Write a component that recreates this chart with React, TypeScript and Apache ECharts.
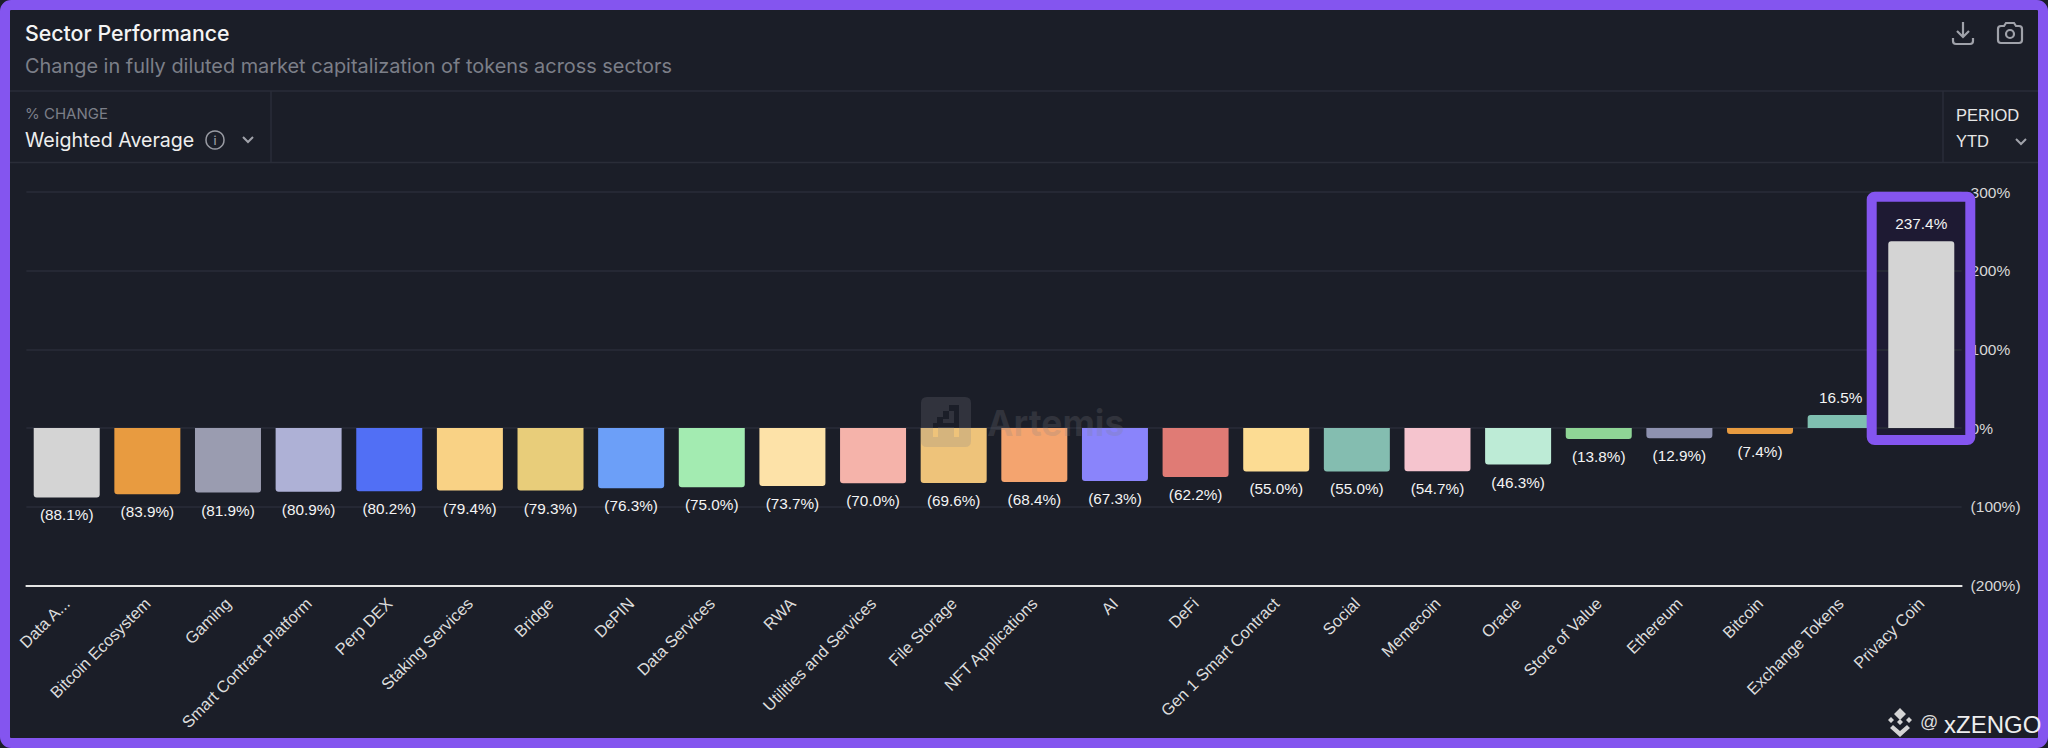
import React, { useEffect, useRef } from "react";
import * as echarts from "echarts";

const categories = ["Data A...", "Bitcoin Ecosystem", "Gaming", "Smart Contract Platform", "Perp DEX", "Staking Services", "Bridge", "DePIN", "Data Services", "RWA", "Utilities and Services", "File Storage", "NFT Applications", "AI", "DeFi", "Gen 1 Smart Contract", "Social", "Memecoin", "Oracle", "Store of Value", "Ethereum", "Bitcoin", "Exchange Tokens", "Privacy Coin"];
const values = [-88.1, -83.9, -81.9, -80.9, -80.2, -79.4, -79.3, -76.3, -75.0, -73.7, -70.0, -69.6, -68.4, -67.3, -62.2, -55.0, -55.0, -54.7, -46.3, -13.8, -12.9, -7.4, 16.5, 237.4];
const barColors = ["#d4d4d4", "#e89b40", "#9a9cb0", "#aeb1d6", "#516ff5", "#f9d285", "#e8cd7a", "#6c9ff8", "#a3ebb1", "#fde2a8", "#f5b3aa", "#eec37a", "#f4a46f", "#8a84fb", "#e07b75", "#fcdc93", "#84bdb0", "#f5c4ce", "#bdebd6", "#8fd596", "#8e92b0", "#e89b40", "#7fbfb0", "#d4d4d4"];

const BG = "#1b1e28";
const PURPLE = "#8455ef";
const LINE = "#2a2d38";
const UI = "Inter, sans-serif";
const CHART = '"Liberation Sans", Arial, sans-serif';

const pct = (v: number, d: number) => (v < 0 ? `(${Math.abs(v).toFixed(d)}%)` : `${v.toFixed(d)}%`);

const DOWNLOAD = "M12 2 V17 M6 11 L12 17 L18 11 M2 18 V21 Q2 24 5 24 H19 Q22 24 22 21 V18";
const CAMERA = "M5 6 H8 L10 3 H18 L20 6 H23 Q26 6 26 9 V20 Q26 23 23 23 H5 Q2 23 2 20 V9 Q2 6 5 6 Z M14 10 A4 4 0 1 0 14 18 A4 4 0 1 0 14 10 Z";
const CHEVRON = "M0 0 L5 5 L10 0";
const ARTEMIS = "M0 6 Q0 0 6 0 H44 Q50 0 50 6 V44 Q50 50 44 50 H6 Q0 50 0 44 Z M12 40 H17 V30 H33 V40 H38 V8 H28 V14 H22 V20 H16 V26 H12 Z M22 26 V22 H28 V14 H33 V26 Z";
const BINANCE = "M14 0 L20 6 L14 12 L8 6 Z M5 9 L8 12 L5 15 L2 12 Z M23 9 L26 12 L23 15 L20 12 Z M14 11 L17 14 L14 17 L11 14 Z M7 17 L14 23 L21 17 L24 20 L14 29 L4 20 Z";

echarts.graphic.registerShape("dlIcon", echarts.graphic.extendPath(DOWNLOAD, {}));
echarts.graphic.registerShape("camIcon", echarts.graphic.extendPath(CAMERA, {}));
echarts.graphic.registerShape("chevIcon", echarts.graphic.extendPath(CHEVRON, {}));
echarts.graphic.registerShape("artemisIcon", echarts.graphic.extendPath(ARTEMIS, {}));
echarts.graphic.registerShape("binanceIcon", echarts.graphic.extendPath(BINANCE, {}));

const hline = (y: number, x1: number, x2: number) => ({
  type: "line", z: 5, shape: { x1, y1: y, x2, y2: y }, style: { stroke: LINE, lineWidth: 1.5 },
});
const vline = (x: number, y1: number, y2: number) => ({
  type: "line", z: 5, shape: { x1: x, y1, x2: x, y2 }, style: { stroke: LINE, lineWidth: 1.5 },
});
const label = (text: string, x: number, y: number, size: number, fill: string, font = UI, weight: any = 400, z = 20) => ({
  type: "text", z, x, y,
  style: { text, fill, fontFamily: font, fontSize: size, fontWeight: weight, verticalAlign: "middle" },
});
const chev = (x: number, y: number) => ({
  type: "chevIcon", z: 20, x, y, style: { stroke: "#a0a2aa", lineWidth: 2, fill: "none" },
});

export default function App() {
  const ref = useRef<HTMLDivElement>(null);
  useEffect(() => {
    document.body.style.margin = "0";
    document.body.style.background = PURPLE;
    const chart = echarts.init(ref.current!, undefined, { renderer: "svg" });
    chart.setOption({
      animation: false,
      backgroundColor: BG,
      grid: { left: 26.4, width: 1935.2, top: 192, height: 393.5, containLabel: false },
      xAxis: {
        type: "category",
        data: categories,
        axisLine: { onZero: false, lineStyle: { color: "#e4e4e4", width: 2 } },
        axisTick: { show: false },
        axisLabel: { rotate: 45, interval: 0, margin: 15, color: "#dcdcdc", fontSize: 16.4, fontFamily: CHART },
      },
      yAxis: {
        type: "value",
        position: "right",
        min: -200,
        max: 300,
        interval: 100,
        axisLine: { show: false },
        axisTick: { show: false },
        splitLine: { lineStyle: { color: LINE, width: 1.5 } },
        axisLabel: { margin: 9, color: "#d8d8d8", fontSize: 15.5, fontFamily: CHART, formatter: (v: number) => pct(v, 0) },
      },
      series: [{
        type: "bar",
        barWidth: 66,
        data: values.map((v, i) => ({
          value: v,
          itemStyle: { color: barColors[i], borderRadius: v < 0 ? [0, 0, 3, 3] : [3, 3, 0, 0] },
          label: { position: v < 0 ? "bottom" : "top" },
        })),
        label: {
          show: true,
          distance: 10,
          color: "#f4f4f4",
          fontSize: 15.3,
          fontFamily: CHART,
          formatter: (p: any) => pct(p.value, 1),
        },
      }],
      graphic: { elements: [
        // tint behind the highlighted bar
        { type: "rect", z: 0, shape: { x: 1871.7, y: 196.7, width: 98.6, height: 243.3 }, style: { fill: "#1e1a33" } },

        // watermark
        { type: "artemisIcon", z: 30, x: 921, y: 397, style: { fill: "rgba(128,128,135,0.22)" } },
        { type: "text", z: 30, x: 987, y: 423, style: { text: "Artemis", fill: "rgba(128,128,135,0.22)", fontFamily: UI, fontSize: 35.5, fontWeight: 700, verticalAlign: "middle" } },

        // header
        hline(91, 10, 2038), hline(162.5, 10, 2038), vline(271, 91, 162.5), vline(1943, 91, 162.5),
        label("Sector Performance", 25, 33, 21.3, "#f4f4f4", UI, 500),
        label("Change in fully diluted market capitalization of tokens across sectors", 25, 66, 19.9, "#7c7f88"),
        label("% CHANGE", 25, 113, 15, "#7c7f88"),
        label("Weighted Average", 25, 140, 19.6, "#eeeeee"),
        { type: "circle", z: 20, shape: { cx: 215, cy: 140, r: 9 }, style: { stroke: "#9a9ca4", lineWidth: 1.5, fill: "none" } },
        label("i", 213.5, 140.5, 12, "#9a9ca4", UI, 500),
        chev(243, 137),
        label("PERIOD", 1956, 115, 16.5, "#e6e6e6", CHART),
        label("YTD", 1956, 141, 16.5, "#e6e6e6", CHART),
        chev(2016, 139),
        { type: "dlIcon", z: 20, x: 1951, y: 20, style: { stroke: "#a0a2aa", lineWidth: 2.2, fill: "none" } },
        { type: "camIcon", z: 20, x: 1996, y: 20, style: { stroke: "#a0a2aa", lineWidth: 2.2, fill: "none" } },

        // highlight box
        { type: "rect", z: 40, shape: { x: 1871.7, y: 196.7, width: 98.6, height: 243.3, r: 3 }, style: { stroke: PURPLE, lineWidth: 10, fill: "none" } },

        // outer frame
        { type: "rect", z: 50, silent: true, shape: { x: 5, y: 5, width: 2038, height: 738, r: 6 }, style: { stroke: PURPLE, lineWidth: 10, fill: "none" } },

        // credit
        { type: "binanceIcon", z: 60, x: 1886, y: 708, style: { fill: "#d4d4d4" } },
        label("@", 1920, 722, 18, "#dcdcdc", CHART, 400, 60),
        label("xZENGO", 1944, 724, 24, "#eeeeee", CHART, 400, 60),
      ] },
    });
    return () => chart.dispose();
  }, []);
  return <div ref={ref} style={{ position: "absolute", left: 0, top: 0, width: 2048, height: 748 }} />;
}
